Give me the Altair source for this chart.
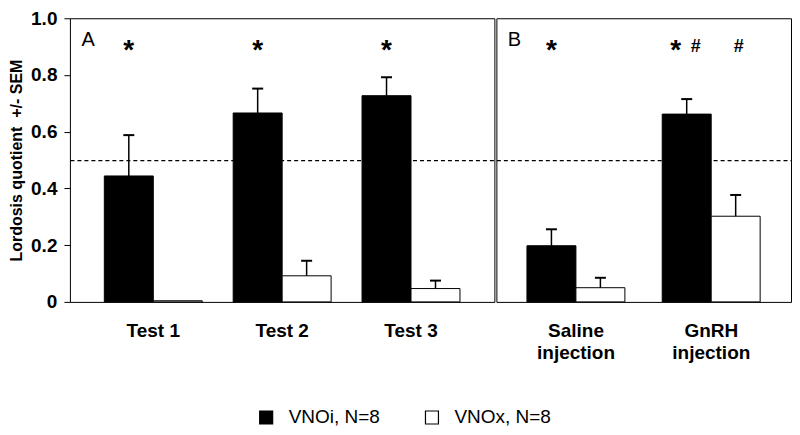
import altair as alt
import pandas as pd

groups = ["VNOi, N=8", "VNOx, N=8"]

cats_a = ["Test 1", "Test 2", "Test 3"]
vnoi_a = [0.444, 0.666, 0.727]
vnoi_a_sem = [0.144, 0.086, 0.065]
vnox_a = [0.004, 0.092, 0.047]
vnox_a_sem = [0.0, 0.053, 0.028]
sig_vnoi_a = ["*", "*", "*"]
sig_vnox_a = ["", "", ""]

cats_b = ["Saline injection", "GnRH injection"]
vnoi_b = [0.198, 0.662]
vnoi_b_sem = [0.058, 0.053]
vnox_b = [0.050, 0.302]
vnox_b_sem = [0.035, 0.075]
sig_vnoi_b = ["*", "* #"]
sig_vnox_b = ["", "#"]

y_ticks = [0, 0.2, 0.4, 0.5, 0.6, 0.8, 1.0]
criterion = 0.5
sig_level = 0.9

FONT = "Liberation Sans"
IS_CRIT = "datum.value == 0.5"


def panel(cats, vi, vi_s, vx, vx_s, si, sx, letter, pin, pout, width, first):
    rows = []
    for c, m, s, g in zip(cats, vi, vi_s, si):
        rows.append(dict(cat=c, group=groups[0], mean=m, sem=s, top=m + s, sig=g))
    for c, m, s, g in zip(cats, vx, vx_s, sx):
        rows.append(dict(cat=c, group=groups[1], mean=m, sem=s, top=m + s, sig=g))
    df = pd.DataFrame(rows)

    x = alt.X(
        "cat:N", sort=cats,
        scale=alt.Scale(paddingInner=pin, paddingOuter=pout),
        axis=alt.Axis(
            title=letter, titleX=11, titleY=-263, titleAlign="left", titleBaseline="middle",
            titleFontSize=20, titleFontWeight="normal", titleColor="black", titleFont=FONT,
            labelAngle=0, domain=False, ticks=False,
            labelFontSize=19, labelFontWeight="bold", labelColor="black",
            labelPadding=20, labelLineHeight=22, labelFont=FONT,
            labelExpr="indexof(datum.label, 'injection') > 0 ? split(datum.label, ' ') : datum.label",
        ),
    )
    xo = alt.XOffset("group:N", sort=groups, scale=alt.Scale(paddingInner=0, paddingOuter=0))
    yscale = alt.Scale(domain=[0, 1], nice=False)
    if first:
        yaxis = alt.Axis(
            values=y_ticks,
            labelExpr="datum.value == 0 ? '0' : (datum.value == 0.5 ? '' : format(datum.value, '.1f'))",
            title="Lordosis quotient\u00a0 +/- SEM", titleFontSize=16, titleFontWeight="bold",
            titleColor="black", titleFont=FONT, titlePadding=6,
            tickSize=6, tickColor="black", domain=False,
            tickOpacity={"condition": {"test": IS_CRIT, "value": 0}, "value": 1},
            grid=True, gridColor="black", gridDash=[4, 3], gridWidth=1.2,
            gridOpacity={"condition": {"test": IS_CRIT, "value": 1}, "value": 0},
            labelFontSize=19, labelFontWeight="bold", labelColor="black",
            labelPadding=7, labelFont=FONT,
        )
    else:
        yaxis = alt.Axis(
            values=[criterion], labels=False, ticks=False, domain=False, title=None,
            grid=True, gridColor="black", gridDash=[4, 3], gridWidth=1.2,
            minExtent=0, maxExtent=0,
        )
    y = alt.Y("mean:Q", scale=yscale, axis=yaxis)

    base = alt.Chart(df)
    bars = base.mark_bar(stroke="black", strokeWidth=1).encode(
        x=x, xOffset=xo, y=y,
        fill=alt.Fill("group:N", sort=groups, scale=alt.Scale(domain=groups, range=["black", "white"]),
                      legend=alt.Legend(title=None)),
    )
    err = base.transform_filter("datum.sem > 0").mark_rule(color="black", strokeWidth=1.5).encode(
        x=x, xOffset=xo, y=alt.Y("mean:Q"), y2="top:Q")
    cap = base.transform_filter("datum.sem > 0").mark_point(
        shape="M -1 0 L 1 0", size=121, filled=False, color="black", strokeWidth=2, opacity=1).encode(
        x=x, xOffset=xo, y=alt.Y("top:Q"))

    ann = base.transform_calculate(yy=str(sig_level))
    star_txt = dict(fontSize=28, fontWeight="bold", font=FONT, baseline="middle", color="black")
    hash_txt = dict(fontSize=18, fontWeight="bold", font=FONT, baseline="middle", color="black")
    ya = alt.Y("yy:Q")
    layers = [bars, err, cap]
    sigs = set(si) | set(sx)
    if "*" in sigs:
        layers.append(ann.transform_filter("datum.sig == '*'").mark_text(
            text="*", dy=4, **star_txt).encode(x=x, xOffset=xo, y=ya))
    if "* #" in sigs:
        layers.append(ann.transform_filter("datum.sig == '* #'").mark_text(
            text="*", dy=4, dx=-11, **star_txt).encode(x=x, xOffset=xo, y=ya))
        layers.append(ann.transform_filter("datum.sig == '* #'").mark_text(
            text="#", dx=9, **hash_txt).encode(x=x, xOffset=xo, y=ya))
    if "#" in sigs:
        layers.append(ann.transform_filter("datum.sig == '#'").mark_text(
            text="#", dx=3, **hash_txt).encode(x=x, xOffset=xo, y=ya))
    return alt.layer(*layers).properties(
        width=width, height=284, view=alt.ViewBackground(stroke="black", strokeWidth=1))


pa = panel(cats_a, vnoi_a, vnoi_a_sem, vnox_a, vnox_a_sem, sig_vnoi_a, sig_vnox_a,
           "A", 0.24, 0.267, 425, True)
pb = panel(cats_b, vnoi_b, vnoi_b_sem, vnox_b, vnox_b_sem, sig_vnoi_b, sig_vnox_b,
           "B", 0.274, 0.226, 295, False)

chart = alt.hconcat(pa, pb, spacing=0).resolve_scale(
    x="independent"
).properties(
    padding={"left": 0, "top": 0, "right": 0, "bottom": 0}
).configure(
    font=FONT
).configure_view(
    stroke="black", strokeWidth=1
).configure_legend(
    orient="none", legendX=187, legendY=390, direction="horizontal",
    symbolType="square", symbolSize=169, symbolStrokeColor="black", symbolStrokeWidth=1.2,
    labelFontSize=19, labelFont=FONT, labelColor="black", labelOffset=13, columnPadding=42,
    labelLimit=300,
)

chart.save("out.html", embed_options={"renderer": "svg", "actions": False})
